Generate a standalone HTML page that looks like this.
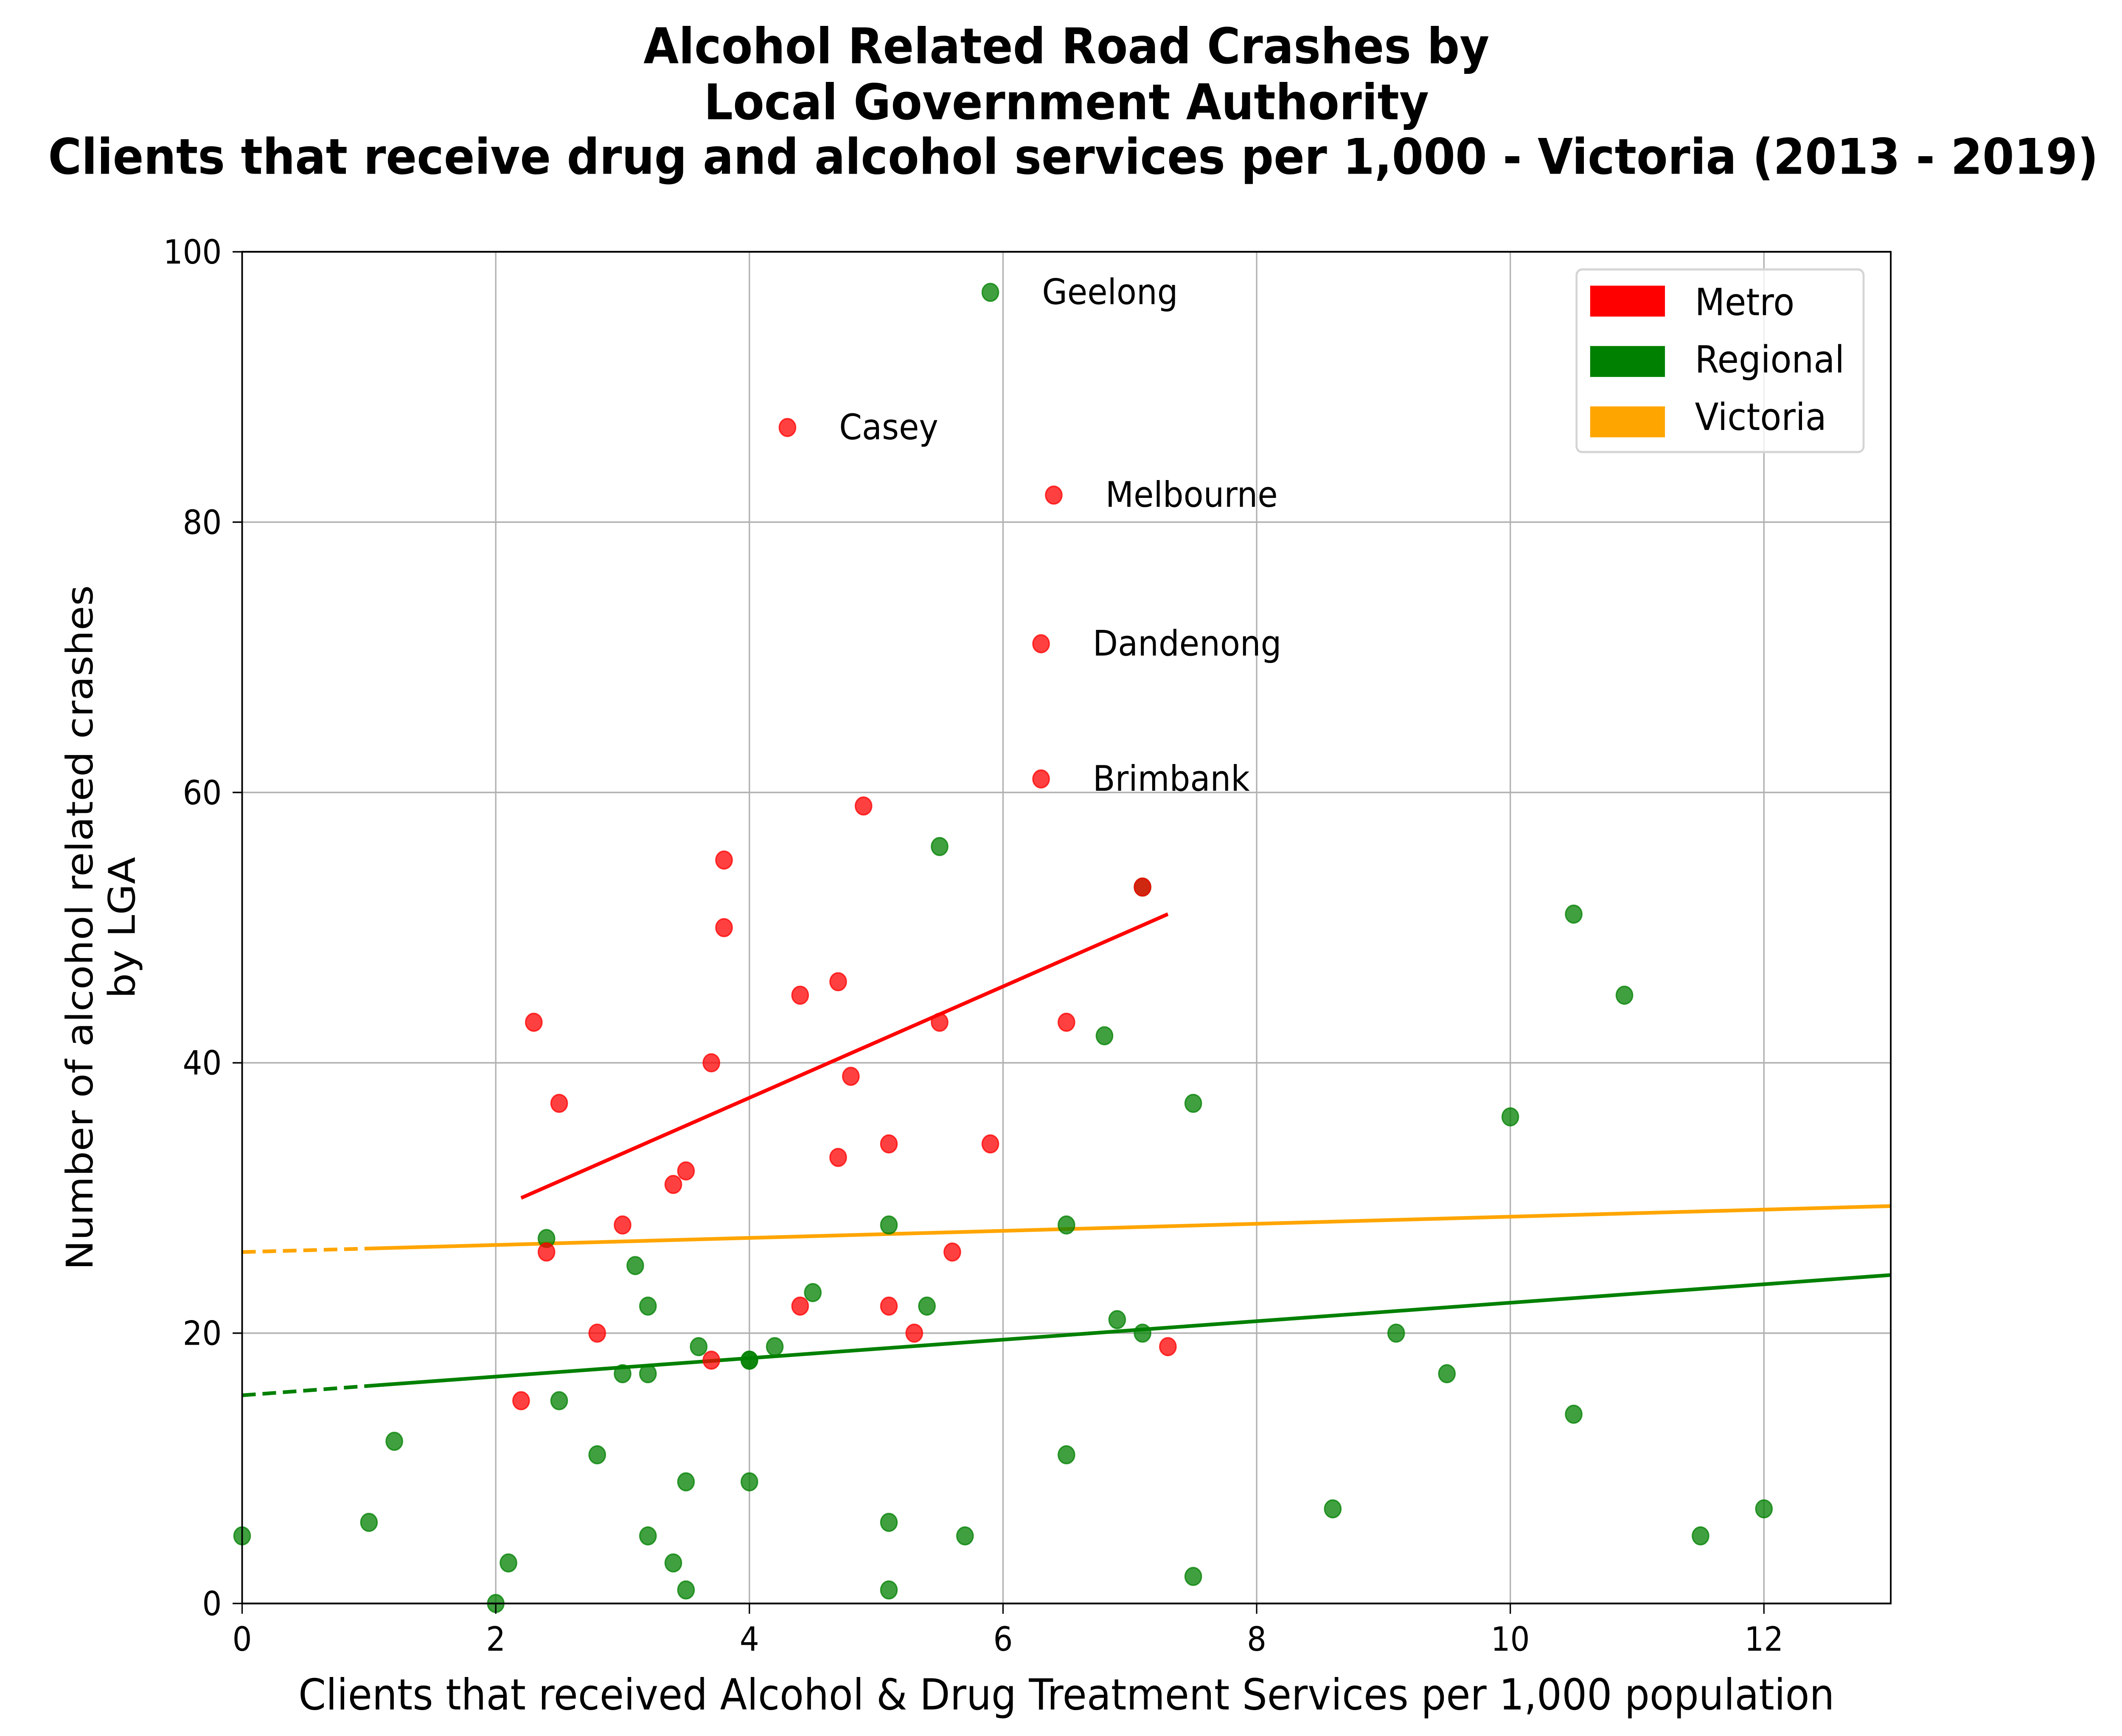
<!DOCTYPE html>
<html><head><meta charset="utf-8">
<style>html,body{margin:0;padding:0;background:#fff;width:100%;height:100%;overflow:hidden}svg{display:block;position:absolute;left:0;top:0;width:100vw;height:100vh}text{font-family:"DejaVu Sans","Liberation Sans",sans-serif;fill:#000}</style>
</head><body>
<svg id="chart" viewBox="0 0 1560 1179" preserveAspectRatio="none" xmlns="http://www.w3.org/2000/svg">
<rect width="1560" height="1179" fill="#fff"/>
<g font-weight="bold" font-size="33.5" text-anchor="middle">
<text x="784" y="43">Alcohol Related Road Crashes by</text>
<text x="784" y="81">Local Government Authority</text>
<text x="789" y="118">Clients that receive drug and alcohol services per 1,000 - Victoria (2013 - 2019)</text>
</g>
<g id="grid"></g>
<g id="lines"></g>
<g id="points"></g>
<g id="labels"></g>
<rect x="178" y="171" width="1212" height="918" fill="none" stroke="#000" stroke-width="1.2"/>
<g id="ticks"></g>
<text x="784" y="1161" font-size="29" text-anchor="middle">Clients that received Alcohol &amp; Drug Treatment Services per 1,000 population</text>
<g font-size="27" text-anchor="middle">
<text transform="translate(68,630) rotate(-90)">Number of alcohol related crashes</text>
<text transform="translate(99,630) rotate(-90)">by LGA</text>
</g>
<g>
<rect x="1159" y="183" width="211" height="124" fill="#fff" fill-opacity="0.8" stroke="#d5d5d5" stroke-width="1.5" rx="4"/>
<rect x="1169" y="194" width="55" height="21" fill="#ff0000"/>
<text x="1246" y="214" font-size="25.5">Metro</text>
<rect x="1169" y="235" width="55" height="21" fill="#008000"/>
<text x="1246" y="253" font-size="25.5">Regional</text>
<rect x="1169" y="276" width="55" height="21" fill="#ffa500"/>
<text x="1246" y="292" font-size="25.5">Victoria</text>
</g>
</svg>
<script>
const xTicks=[0,2,4,6,8,10,12];
const yTicks=[0,20,40,60,80,100];
const metroX=[4.3,6.4,6.3,6.3,4.9,3.8,3.8,4.7,4.4,2.3,5.5,6.5,3.7,4.8,2.5,5.1,5.9,4.7,3.5,3.4,3.0,2.4,5.6,4.4,5.1,2.8,5.3,7.3,3.7,2.2,7.1];
const metroY=[87,82,71,61,59,55,50,46,45,43,43,43,40,39,37,34,34,33,32,31,28,26,26,22,22,20,20,19,18,15,53];
const regionalX=[5.9,5.5,7.1,10.5,10.9,6.8,7.5,10.0,5.1,6.5,2.4,3.1,4.5,3.2,5.4,6.9,7.1,9.1,3.6,4.2,4.0,4.0,3.0,3.2,9.5,2.5,10.5,1.2,2.8,6.5,3.5,4.0,8.6,12.0,1.0,5.1,0,3.2,5.7,11.5,2.1,3.4,7.5,3.5,5.1,2.0];
const regionalY=[97,56,53,51,45,42,37,36,28,28,27,25,23,22,22,21,20,20,19,19,18,18,17,17,17,15,14,12,11,11,9,9,7,7,6,6,5,5,5,5,3,3,2,1,1,0];
const labelNames=["Geelong","Casey","Melbourne","Dandenong","Brimbank"];
const labelX=[5.9,4.3,6.4,6.3,6.3];
const labelY=[97,87,82,71,61];
const metroFitX=[2.2,7.3], metroFitY=[30,51];
const vicFitX=[0,1,13], vicFitY=[26,26.26,29.4];
const regFitX=[0,1,13], regFitY=[15.4,16.1,24.3];

const NS="http://www.w3.org/2000/svg";
const sx=v=>178+v*(1212/13), sy=v=>1089-v*9.18;
function mk(tag,attrs,parent){const e=document.createElementNS(NS,tag);for(const k in attrs)e.setAttribute(k,attrs[k]);document.getElementById(parent).appendChild(e);return e;}
xTicks.forEach(t=>{
  const g=mk('line',{x1:sx(t),x2:sx(t),y1:171,y2:1089,stroke:'#b0b0b0','stroke-width':1},'grid');
  
  
  const tk=mk('line',{x1:sx(t),x2:sx(t),y1:1089,y2:1096,stroke:'#000'},'ticks');
  
  
  const tl=mk('text',{x:sx(t),y:1121,'font-size':22.5,'text-anchor':'middle'},'ticks');tl.textContent=t;
  
  
});
yTicks.forEach(t=>{
  const g=mk('line',{x1:178,x2:1390,y1:sy(t),y2:sy(t),stroke:'#b0b0b0','stroke-width':1},'grid');
  
  
  const tk=mk('line',{x1:171,x2:178,y1:sy(t),y2:sy(t),stroke:'#000'},'ticks');
  
  
  const tl=mk('text',{x:163,y:sy(t)+8,'font-size':22.5,'text-anchor':'end'},'ticks');tl.textContent=t;
  
  
});
function fit(xs,ys,color,name){
  if(xs.length===3){
    const d=mk('line',{x1:sx(xs[0]),y1:sy(ys[0]),x2:sx(xs[1]),y2:sy(ys[1]),stroke:color,'stroke-width':2.5,'stroke-dasharray':'10,5'},'lines');
    
    
    const s=mk('line',{x1:sx(xs[1]),y1:sy(ys[1]),x2:sx(xs[2]),y2:sy(ys[2]),stroke:color,'stroke-width':2.5},'lines');
    
    
  } else {
    const s=mk('line',{x1:sx(xs[0]),y1:sy(ys[0]),x2:sx(xs[1]),y2:sy(ys[1]),stroke:color,'stroke-width':2.5},'lines');
    
    
  }
}
regionalX.forEach((x,i)=>{
  const c=mk('circle',{cx:sx(x),cy:sy(regionalY[i]),r:6,fill:'#008000','fill-opacity':0.75,stroke:'#008000','stroke-opacity':0.75,'stroke-width':1},'points');
  
  
});
metroX.forEach((x,i)=>{
  const c=mk('circle',{cx:sx(x),cy:sy(metroY[i]),r:6,fill:'#ff0000','fill-opacity':0.75,stroke:'#ff0000','stroke-opacity':0.75,'stroke-width':1},'points');
  
  
});
fit(vicFitX,vicFitY,'#ffa500','victoria-trend');
fit(regFitX,regFitY,'#008000','regional-trend');
fit(metroFitX,metroFitY,'#ff0000','metro-trend');
labelNames.forEach((n,i)=>{
  const t=mk('text',{x:sx(labelX[i])+38,y:sy(labelY[i])+8,'font-size':24},'labels');t.textContent=n;
  
  
});
</script>
</body></html>
